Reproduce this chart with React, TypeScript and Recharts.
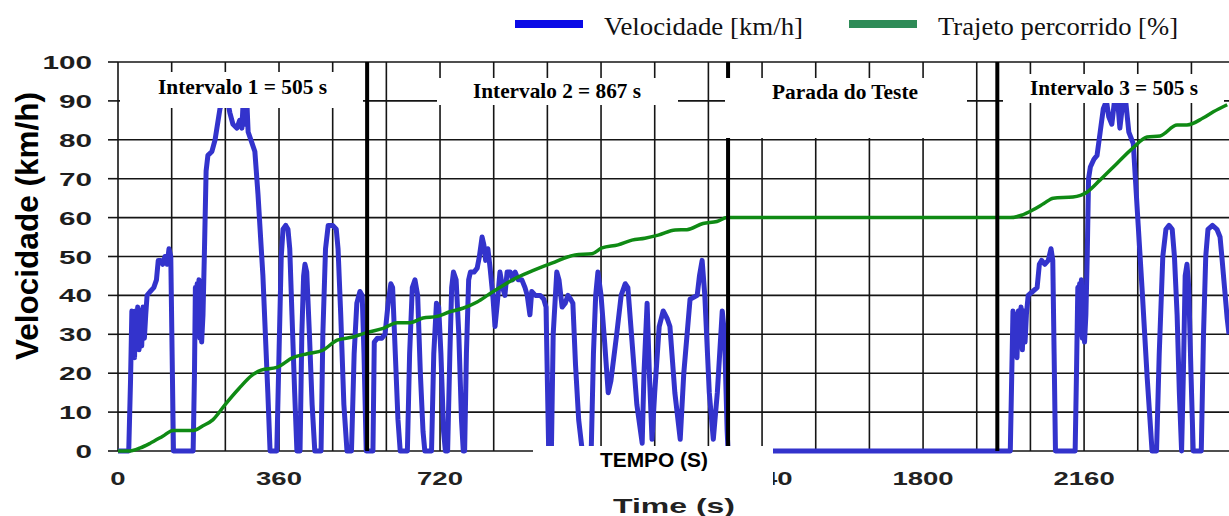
import React from "react";
import { LineChart, Line, XAxis, YAxis, CartesianGrid, ReferenceLine } from "recharts";

// ---- data (time in s, speed in km/h, route in %) ----
const interval1Speed: [number, number][] = [
  [0,0],[24,0],[28,18],[31,36],[33,25],[35,35],[37,24],[39,36],[42,27],[44,37],[47,26],[50,36],[53,27],[56,37],[59,29],[62,35],[65,40],[72,41],[80,42],[86,44],[90,49],[95,49],[100,48],[105,50],[110,48],[114,52],[118,50],[121,25],[124,0],
  [168,0],[171,20],[173,42],[175,30],[177,43],[179,31],[181,44],[183,29],[185,43],[187,28],[190,35],[193,50],[197,72],[201,76],[210,77],[217,80],[228,88],[235,90],[245,90],[250,87],[257,84],[266,83],[272,85],[277,83],[280,90],[285,84],[288,90],[291,82],[306,77],[313,66],[324,45],[335,15],[340,0],
  [355,0],[360,25],[365,50],[369,57],[375,58],[380,57],[384,52],[389,35],[395,15],[400,0],[407,0],[411,30],[415,45],[418,48],[422,46],[428,30],[434,12],[440,0],
  [454,0],[458,30],[464,52],[470,58],[480,58],[488,57],[492,52],[498,35],[505,12],[512,0],[522,0],[528,25],[534,38],[541,41],[546,40],[550,25],[555,0],
];
const interval2Speed: [number, number][] = [
  [570,0],[573,28],[580,29],[590,29],[597,30],[604,38],[610,43],[614,42],[620,25],[626,8],[631,0],[647,0],[652,25],[658,42],[664,44],[670,40],[676,20],[682,5],[686,0],
  [701,0],[706,25],[712,38],[717,37],[722,25],[728,5],[732,0],[737,0],[742,25],[746,42],[750,46],[756,44],[762,30],[768,8],[772,0],
  [775,0],[779,25],[784,44],[788,46],[796,46],[803,47],[808,50],[814,55],[818,53],[822,49],[827,52],[832,47],[838,40],[843,32],[848,38],[854,46],[860,42],[865,40],[870,46],[877,46],[882,44],[888,46],[895,44],[903,44],[910,42],[915,40],[921,35],[925,41],[933,40],[944,40],[952,39],[957,37],[960,18],[963,0],
  [969,0],[973,30],[981,46],[986,44],[993,37],[1000,38],[1006,40],[1012,39],[1017,38],[1023,22],[1030,8],[1038,0],
  [1058,0],[1063,25],[1068,40],[1073,46],[1080,40],[1088,28],[1096,15],[1102,18],[1115,30],[1125,40],[1134,43],[1140,42],[1148,30],[1160,12],[1172,2],[1176,20],[1183,38],[1188,20],[1194,3],[1200,15],[1210,32],[1219,36],[1228,34],[1234,32],[1245,15],[1257,3],[1265,20],[1279,39],[1295,40],[1300,45],[1306,49],[1312,40],[1322,15],[1331,3],[1340,15],[1351,36],[1356,30],[1362,5],[1364,0],
];
const pauseSpeed: [number, number][] = [[1400,0],[1800,0],[1966,0],[1995,0]];
const interval3Speed: [number, number][] = [
  [1998,18],[2001,36],[2004,25],[2007,35],[2010,24],[2013,36],[2016,27],[2019,37],[2022,26],[2025,36],[2028,28],[2031,35],[2035,40],[2045,41],[2055,42],[2060,48],[2065,49],[2072,48],[2080,49],[2086,52],[2090,49],[2093,25],[2096,0],
  [2140,0],[2143,20],[2146,42],[2148,30],[2150,43],[2152,31],[2154,44],[2156,29],[2158,42],[2161,28],[2164,35],[2167,50],[2170,70],[2174,73],[2182,75],[2189,76],[2196,82],[2203,88],[2210,90],[2215,86],[2222,84],[2228,90],[2235,90],[2240,83],[2247,90],[2253,90],[2260,82],[2270,79],[2281,58],[2290,41],[2301,19],[2312,0],
  [2322,0],[2328,25],[2336,50],[2343,57],[2350,58],[2357,57],[2362,50],[2368,35],[2373,15],[2378,0],[2382,20],[2386,45],[2390,48],[2394,42],[2399,20],[2404,0],
  [2422,0],[2427,30],[2432,50],[2437,57],[2447,58],[2457,57],[2464,55],[2468,50],[2474,42],[2480,34],[2484,30],
];
const routePercent: [number, number][] = [
  [0,0],[27,0],[50,0.8],[72,2.0],[100,3.8],[123,5.3],[168,5.3],[190,6.5],[212,8],[240,12],[270,16],[300,19.5],[320,20.8],[355,21.5],[391,24],[423,25],[458,25.9],[490,28.5],[525,29.3],[557,30.5],
  [593,31.5],[624,33],[653,33],[682,34.2],[713,34.6],[742,35.8],[771,36.7],[803,38.3],[832,40.5],[860,42.5],[894,44.7],[930,46.5],[970,48.3],[1022,50.4],[1060,50.7],[1082,52.2],[1118,53],[1149,54.2],[1178,54.7],[1208,55.5],[1246,56.8],[1272,56.9],[1308,58.5],[1339,59],[1362,60],
  [1995,60],[2020,60.6],[2046,62],[2070,63.6],[2091,65],[2135,65.3],[2167,66.6],[2196,69.7],[2234,74],[2270,78],[2301,80.7],[2330,81],[2368,83.8],[2390,83.8],[2426,85.6],[2449,87.2],[2480,89],
];
const xTicks = [0,120,240,360,480,600,720,840,960,1080,1200,1320,1440,1560,1680,1800,1920,2040,2160,2280,2400];
const xLabelTicks = [0,360,720,1080,1440,1800,2160];
const yTicks = [0,10,20,30,40,50,60,70,80,90,100];
const intervalMarkers = [557, 1364, 1966];
const xMax = 2484;

const speedData = [...interval1Speed, ...interval2Speed, ...pauseSpeed, ...interval3Speed].map(([t, v]) => ({ t, v }));
const routeData = routePercent.map(([t, p]) => ({ t, p }));

const SANS = "'Liberation Sans', Arial, sans-serif";
const SERIF = "'Liberation Serif', 'Times New Roman', serif";

const YTick = (props: any) => {
  const { x, y, payload } = props;
  const s = String(payload.value);
  return (
    <text x={x} y={y} dy={7} textAnchor="end" fontFamily={SANS} fontWeight="bold" fontSize={18} fill="#1e1e1e"
      textLength={s.length * 16.5} lengthAdjust="spacingAndGlyphs">{s}</text>
  );
};

const XTick = (props: any) => {
  const { x, y, payload } = props;
  if (!xLabelTicks.includes(payload.value)) return <g />;
  const s = String(payload.value);
  return (
    <text x={x} y={y + 34} textAnchor="middle" fontFamily={SANS} fontWeight="bold" fontSize={18} fill="#222"
      textLength={s.length * 15.3} lengthAdjust="spacingAndGlyphs">{s}</text>
  );
};

const Box = ({ x, y, w, h, label, tx, ty, tl }: any) => (
  <g>
    <rect x={x} y={y} width={w} height={h} fill="#fff" />
    <text x={tx} y={ty} textAnchor="middle" fontFamily={SERIF} fontWeight="bold" fontSize={21} fill="#000"
      textLength={tl} lengthAdjust="spacingAndGlyphs">{label}</text>
  </g>
);

export default function App() {
  return (
    <div style={{ position: "absolute", left: 0, top: 0, width: 1229, height: 516, background: "#fff", overflow: "hidden" }}>
      <LineChart width={1229} height={516} data={speedData} margin={{ top: 62, right: 0, bottom: 0, left: 0 }}>
        <CartesianGrid stroke="#151515" strokeWidth={1.6} horizontalValues={yTicks} verticalValues={xTicks} />
        <XAxis dataKey="t" type="number" domain={[0, xMax]} ticks={xTicks} allowDataOverflow height={65}
          axisLine={false} tickLine={false} tickSize={0} tickMargin={0} tick={<XTick />} interval={0} />
        <YAxis type="number" domain={[0, 100]} ticks={yTicks} width={118} axisLine={false}
          tickLine={{ stroke: "#151515", strokeWidth: 1.6 }} tickSize={10} tickMargin={16} tick={<YTick />} interval={0} />
        <Line data={speedData} dataKey="v" type="linear" stroke="#3333cc" strokeWidth={5} dot={false}
          strokeLinejoin="round" isAnimationActive={false} />
        <Line data={routeData} dataKey="p" type="monotone" stroke="#0f8a14" strokeWidth={3.5} dot={false}
          isAnimationActive={false} />
        {intervalMarkers.map((m) => (
          <ReferenceLine key={m} x={m} stroke="#000" strokeWidth={4} />
        ))}
      </LineChart>
      <svg width={1229} height={516} style={{ position: "absolute", left: 0, top: 0, pointerEvents: "none" }}>
        {/* legend */}
        <rect x={515} y={20} width={68} height={8} fill="#0a0ae6" />
        <text x={604} y={35} fontFamily={SERIF} fontSize={26} fill="#111" textLength={199} lengthAdjust="spacingAndGlyphs">Velocidade [km/h]</text>
        <rect x={849} y={20} width={68} height={8} fill="#2e8b57" />
        <text x={938} y={35} fontFamily={SERIF} fontSize={26} fill="#111" textLength={240} lengthAdjust="spacingAndGlyphs">Trajeto percorrido [%]</text>
        {/* interval boxes */}
        <Box x={120} y={72} w={243} h={36} label="Intervalo 1 = 505 s" tx={242.5} ty={94} tl={169} />
        <Box x={437} y={78} w={241} h={27} label="Intervalo 2 = 867 s" tx={557} ty={98} tl={168} />
        <Box x={725} y={78} w={242} h={60} label="Parada do Teste" tx={845} ty={99} tl={146} />
        <Box x={1003} y={74} w={221} h={29} label="Intervalo 3 = 505 s" tx={1114} ty={95} tl={168} />
        {/* TEMPO box */}
        <rect x={533} y={446} width={240} height={47} fill="#fff" />
        <text x={654} y={467} textAnchor="middle" fontFamily={SANS} fontWeight="bold" fontSize={20} fill="#000"
          textLength={108} lengthAdjust="spacingAndGlyphs">TEMPO (S)</text>
        {/* axis titles */}
        <text x={674} y={513} textAnchor="middle" fontFamily={SANS} fontWeight="bold" fontSize={21} fill="#222"
          textLength={122} lengthAdjust="spacingAndGlyphs">Time (s)</text>
        <text x={38} y={226} transform="rotate(-90 38 226)" textAnchor="middle" fontFamily={SANS} fontWeight="bold"
          fontSize={32} fill="#000" textLength={268} lengthAdjust="spacingAndGlyphs">Velocidade (km/h)</text>
      </svg>
    </div>
  );
}
